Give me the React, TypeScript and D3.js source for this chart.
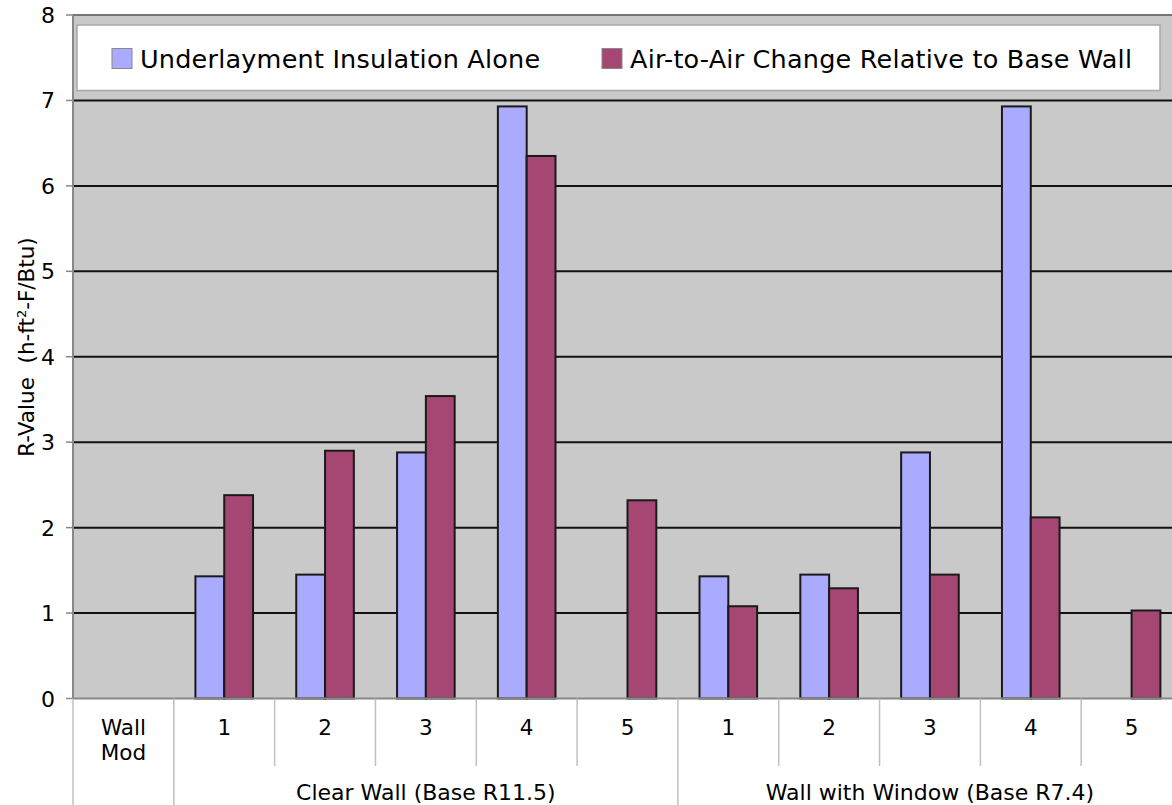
import React, { useEffect } from "react";
import * as d3 from "d3";

const categories = ["Wall Mod", "1", "2", "3", "4", "5", "1", "2", "3", "4", "5"];
const underlayment = [null, 1.43, 1.45, 2.88, 6.93, null, 1.43, 1.45, 2.88, 6.93, null];
const airToAir = [null, 2.38, 2.9, 3.54, 6.35, 2.32, 1.08, 1.29, 1.45, 2.12, 1.03];
const groups = [
  { label: "Clear Wall (Base R11.5)", start: 1, end: 5 },
  { label: "Wall with Window (Base R7.4)", start: 6, end: 10 },
];
const seriesNames = ["Underlayment Insulation Alone", "Air-to-Air Change Relative to Base Wall"];
const yTicks = [0, 1, 2, 3, 4, 5, 6, 7, 8];

const W = 1172;
const H = 805;
const left = 73;
const plotRight = 1182;
const top = 15;
const bottom = 698.5;
const FONT = "'DejaVu Sans', Verdana, sans-serif";
const blue = "#aaaaff";
const red = "#a54673";

export default function App() {
  useEffect(() => {
    document.body.style.margin = "0";
  }, []);
  const x = d3
    .scaleBand<number>()
    .domain(d3.range(categories.length))
    .range([left, plotRight]);
  const y = d3.scaleLinear().domain([0, 8]).range([bottom, top]);
  const bw = x.bandwidth() / 3.5;
  const series = [underlayment, airToAir];
  const colors = [blue, red];

  return (
    <svg width={W} height={H} style={{ display: "block", fontFamily: FONT }}>
      <rect x={0} y={0} width={W} height={H} fill="#fff" />
      <rect x={left} y={top} width={plotRight - left} height={bottom - top} fill="#c9c9c9" />
      {/* gridlines */}
      {yTicks.filter((t) => t > 0 && t < 8).map((t) => (
        <line key={t} x1={left} x2={plotRight} y1={y(t)} y2={y(t)} stroke="#111" strokeWidth={2} />
      ))}
      <line x1={left} x2={plotRight} y1={top} y2={top} stroke="#777" strokeWidth={2} />
      {/* legend */}
      <rect x={77} y={25} width={1083} height={65.5} fill="#fff" stroke="#a8a8a8" strokeWidth={1.5} />
      {seriesNames.map((n, i) => {
        const sx = i === 0 ? 112 : 602;
        return (
          <g key={n}>
            <rect x={sx} y={48.5} width={20} height={20} fill={colors[i]} stroke="#888" strokeWidth={1} />
            <text x={sx + 28} y={67.5} fontSize={25.5} letterSpacing={0.2} fill="#000">{n}</text>
          </g>
        );
      })}
      {/* bars */}
      {series.map((s, si) =>
        s.map((v, ci) =>
          v == null ? null : (
            <rect
              key={`${si}-${ci}`}
              x={(x(ci) as number) + x.bandwidth() / 2 - bw + si * bw}
              y={y(v)}
              width={bw}
              height={bottom - y(v)}
              fill={colors[si]}
              stroke="#1a1a1a"
              strokeWidth={2}
            />
          )
        )
      )}
      {/* axes */}
      <line x1={left} x2={left} y1={top} y2={bottom} stroke="#888" strokeWidth={2} />
      <line x1={left} x2={plotRight} y1={bottom} y2={bottom} stroke="#888" strokeWidth={2} />
      {yTicks.map((t) => (
        <g key={t}>
          <line x1={66} x2={left} y1={y(t)} y2={y(t)} stroke="#888" strokeWidth={1.5} />
          <text x={55} y={y(t) + 8} fontSize={22} textAnchor="end" fill="#000">{t}</text>
        </g>
      ))}
      <text
        transform={`translate(34, 347) rotate(-90)`}
        fontSize={21.5}
        textAnchor="middle"
        fill="#000"
        style={{ whiteSpace: "pre" }}
      >
        {"R-Value\u00A0\u00A0(h-ft"}<tspan dy={-8} fontSize={13}>2</tspan><tspan dy={8}>-F/Btu)</tspan>
      </text>
      {/* category separators */}
      {d3.range(categories.length + 1).map((i) => {
        const xx = i < categories.length ? (x(i) as number) : plotRight;
        const full = i === 0 || i === 1 || i === 6 || i === categories.length;
        return (
          <line key={i} x1={xx} x2={xx} y1={bottom} y2={full ? H : 766} stroke="#c0c0c0" strokeWidth={1.5} />
        );
      })}
      {categories.map((c, i) => {
        const cx = (x(i) as number) + x.bandwidth() / 2;
        if (c === "Wall Mod") {
          return (
            <text key={i} x={cx} y={735} fontSize={21.5} textAnchor="middle" fill="#000">
              <tspan x={cx}>Wall</tspan>
              <tspan x={cx} dy={25}>Mod</tspan>
            </text>
          );
        }
        return (
          <text key={i} x={cx} y={735} fontSize={21.5} textAnchor="middle" fill="#000">{c}</text>
        );
      })}
      {groups.map((g) => {
        const cx = ((x(g.start) as number) + (x(g.end) as number) + x.bandwidth()) / 2;
        return (
          <text key={g.label} x={cx} y={800} fontSize={22} textAnchor="middle" fill="#000">{g.label}</text>
        );
      })}
    </svg>
  );
}
